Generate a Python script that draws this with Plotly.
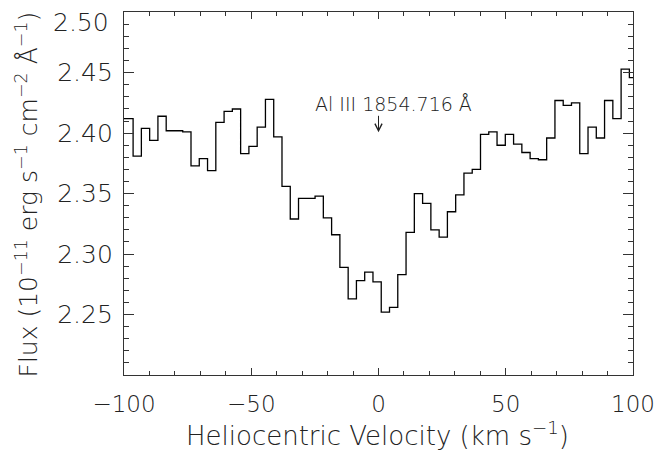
import plotly.graph_objects as go

# Heliocentric velocity of each spectral bin (km/s), bin centres
velocity = [-101.30, -98.05, -94.80, -91.55, -88.30, -85.05, -81.80, -78.55, -75.30,
            -72.05, -68.80, -65.55, -62.30, -59.05, -55.80, -52.55, -49.30, -46.05,
            -42.80, -39.55, -36.30, -33.05, -29.80, -26.55, -23.30, -20.05, -16.80,
            -13.55, -10.30, -7.05, -3.80, -0.55, 2.70, 5.95, 9.20, 12.45, 15.70,
            18.95, 22.20, 25.45, 28.70, 31.95, 35.20, 38.45, 41.70, 44.95, 48.20,
            51.45, 54.70, 57.95, 61.20, 64.45, 67.70, 70.95, 74.20, 77.45, 80.70,
            83.95, 87.20, 90.45, 93.70, 96.95, 100.20]

# Flux (1e-11 erg s^-1 cm^-2 A^-1)
flux = [2.412, 2.412, 2.381, 2.404, 2.394, 2.414, 2.402, 2.402, 2.401,
        2.373, 2.379, 2.369, 2.409, 2.418, 2.420, 2.383, 2.389, 2.405,
        2.428, 2.397, 2.356, 2.329, 2.346, 2.346, 2.348, 2.330, 2.316,
        2.289, 2.263, 2.278, 2.285, 2.277, 2.252, 2.256, 2.283, 2.318, 2.350,
        2.342, 2.320, 2.314, 2.335, 2.349, 2.367, 2.370, 2.399, 2.401, 2.390,
        2.399, 2.391, 2.384, 2.379, 2.378, 2.396, 2.427, 2.423, 2.425, 2.383,
        2.405, 2.396, 2.427, 2.412, 2.453, 2.446]

x_tickvals = [-100, -50, 0, 50, 100]
y_tickvals = [2.25, 2.30, 2.35, 2.40, 2.45, 2.50]
y_ticktext = ["2.25", "2.30", "2.35", "2.40", "2.45", ""]
y_top_value = 2.50
y_top_label = "2.50"   # drawn a little below the top tick, as in the original

x_title = "Heliocentric Velocity (km s<sup>−1</sup>)"
y_title = "Flux (10<sup>−11</sup> erg s<sup>−1</sup> cm<sup>−2</sup> Å<sup>−1</sup>)"

line_label = "Al III 1854.716 Å"
line_velocity = 0.0
line_label_flux = 2.4245
arrow_tip_flux = 2.4007

FONT = "DejaVu Sans"
INK = "#222222"
AX = "#333333"

fig = go.Figure()
fig.add_trace(go.Scatter(x=velocity, y=flux, mode="lines",
                         line=dict(shape="hvh", color="black", width=1.3),
                         showlegend=False, hoverinfo="skip"))

fig.add_annotation(x=line_velocity + 6.0, y=line_label_flux, text=line_label, showarrow=False,
                   xref="x", yref="y", xanchor="center", yanchor="middle",
                   font=dict(family=FONT, size=19, color=INK, weight=200))
fig.add_annotation(x=line_velocity, y=arrow_tip_flux, text="", showarrow=True,
                   xref="x", yref="y", ax=0, ay=-18, standoff=0, startstandoff=0,
                   arrowhead=5, arrowsize=1.4, arrowwidth=1, arrowcolor=INK)

# top y tick label
fig.add_annotation(x=0, y=y_top_value, xref="paper", yref="y", text=y_top_label,
                   showarrow=False, xanchor="right", yanchor="middle",
                   xshift=-13, yshift=-10,
                   font=dict(family=FONT, size=25, color=INK, weight=200))

# axis titles
fig.add_annotation(x=0.5, y=0, xref="paper", yref="paper", text=x_title,
                   showarrow=False, xanchor="center", yanchor="middle", yshift=-59,
                   xshift=-1, font=dict(family=FONT, size=26, color=INK, weight=200))
fig.add_annotation(x=0, y=0.5, xref="paper", yref="paper", text=y_title,
                   showarrow=False, xanchor="center", yanchor="middle", textangle=-90,
                   xshift=-97, yshift=-1,
                   font=dict(family=FONT, size=25, color=INK, weight=200))

axis_common = dict(showline=True, linecolor=AX, linewidth=1.2, mirror="ticks",
                   ticks="inside", tickcolor=AX, tickwidth=1.2,
                   showgrid=False, zeroline=False, ticklabeloverflow="allow")

fig.update_xaxes(range=[-100, 100], tickmode="array", tickvals=x_tickvals,
                 ticklen=7, ticklabelstandoff=8,
                 tickfont=dict(family=FONT, size=23, color=INK, weight=200),
                 minor=dict(ticks="inside", dtick=10, tick0=0, ticklen=3.5,
                            tickcolor=AX, tickwidth=1.2, showgrid=False),
                 **axis_common)
fig.update_yaxes(range=[2.20, 2.5002], tickmode="array", tickvals=y_tickvals,
                 ticktext=y_ticktext, ticklen=10, ticklabelstandoff=5,
                 tickfont=dict(family=FONT, size=25, color=INK, weight=200),
                 minor=dict(ticks="inside", dtick=0.01, tick0=2.20, ticklen=5,
                            tickcolor=AX, tickwidth=1.2, showgrid=False),
                 **axis_common)

fig.update_layout(width=658, height=453,
                  margin=dict(l=124, r=25, t=12, b=78, autoexpand=False),
                  paper_bgcolor="white", plot_bgcolor="white")

fig.write_html("out.html", config={"displayModeBar": False},
               post_script="document.body.style.margin='0';")
